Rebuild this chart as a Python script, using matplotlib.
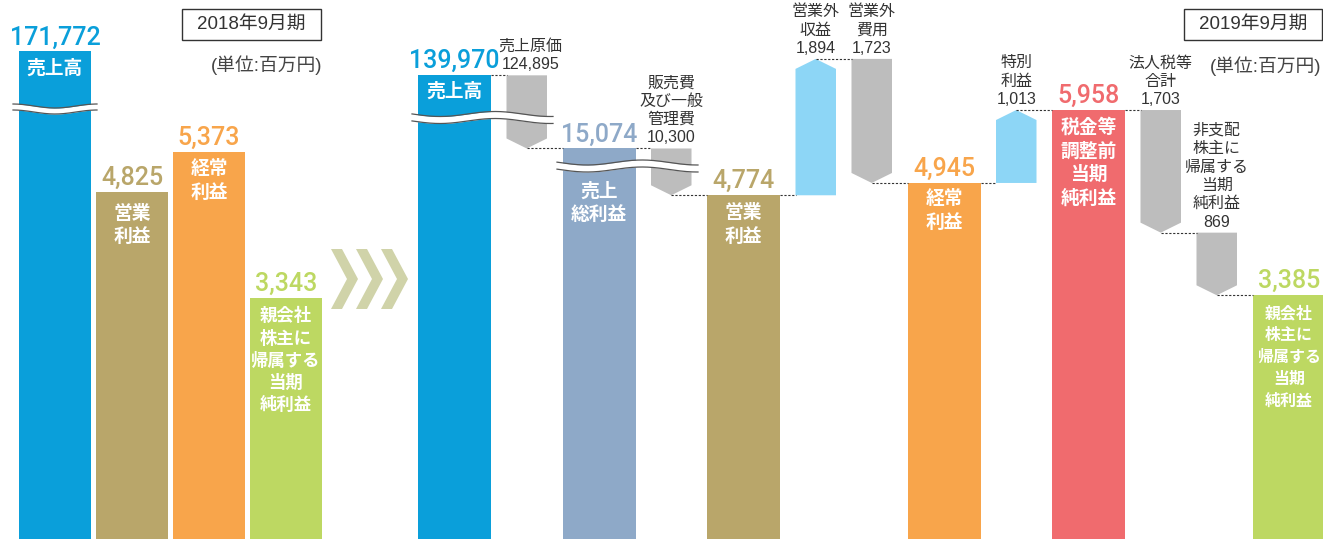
import numpy as np
import matplotlib.pyplot as plt
from matplotlib.patches import Polygon, Rectangle

plt.rcParams['font.family'] = ['Liberation Sans', 'Noto Sans CJK JP']

# ---- data (百万円) ----
# 2018年9月期
prev_labels = ["売上高", "営業\n利益", "経常\n利益", "親会社\n株主に\n帰属する\n当期\n純利益"]
prev_values = [171772, 4825, 5373, 3343]

# 2019年9月期 : totals
cur_labels = ["売上高", "売上\n総利益", "営業\n利益", "経常\n利益",
              "税金等\n調整前\n当期\n純利益", "親会社\n株主に\n帰属する\n当期\n純利益"]
cur_values = [139970, 15074, 4774, 4945, 5958, 3385]

# 2019年9月期 : steps between totals
step_labels = ["売上原価", "販売費\n及び一般\n管理費", "営業外\n収益", "営業外\n費用",
               "特別\n利益", "法人税等\n合計", "非支配\n株主に\n帰属する\n当期\n純利益"]
step_values = [124895, 10300, 1894, 1723, 1013, 1703, 869]
step_signs = [-1, -1, 1, -1, 1, -1, -1]

order = "TSTSTSSTSTSST"

# ---- styling / layout ----
W, H = 1323, 539
SCALE = 0.072            # px per 百万円
prev_colors = ["#0a9fda", "#b9a66a", "#f8a54b", "#bdd862"]
cur_colors = ["#0a9fda", "#8ea9c8", "#b9a66a", "#f8a54b", "#f06b6e", "#bdd862"]
prev_cuts = [165000, 0, 0, 0]          # amount hidden by the wavy break
cur_cuts = [133530, 9650, 0, 0, 0, 0]
prev_drop = [7, 12, 7, 9]              # px from bar top to inner label
cur_drop = [6, 33, 8, 6, 8, 10]
prev_fs = [13.5, 13.5, 13.5, 12.5]
cur_fs = [13.5, 13.5, 13.5, 13.5, 13.5, 11.5]
cur_ls = [1.3, 1.3, 1.3, 1.3, 1.3, 1.45]
GRAY = "#bdbdbd"
LBLUE = "#8dd6f6"
TXT = "#333333"
BAR_W, ARR_W, GAP = 73, 40.5, 15.5
HEAD = 10 / SCALE


def Y(px):
    return (H - px) / SCALE


def P(px):
    return px / SCALE


fig = plt.figure(figsize=(W / 100, H / 100), dpi=100)
ax = fig.add_axes([0, 0, 1, 1])
ax.set_xlim(0, W)
ax.set_ylim(0, H / SCALE)
ax.axis('off')

num_font = dict(family=['Roboto', 'Liberation Sans'], fontsize=18, fontweight='medium')
in_font = dict(family=['Noto Sans CJK JP'], fontweight='bold', color='white',
               ha='center', va='top')
lab_font = dict(family=['Liberation Sans', 'Noto Sans CJK JP'], fontsize=11.5, color=TXT,
                ha='center', va='bottom', linespacing=1.28)


def wave(x0, x1, yc, amp, half, period, xref, sign=1):
    xs = np.linspace(x0, x1, 200)
    c = yc + sign * amp * np.cos(2 * np.pi * (xs - xref) / period)
    top, bot = Y(c - half), Y(c + half)
    ax.fill_between(xs, bot, top, color='white', zorder=5, lw=0)
    ax.plot(xs, top, color='#555555', lw=0.9, zorder=6)
    ax.plot(xs, bot, color='#555555', lw=0.9, zorder=6)


def total_bar(x, w, val, cut, color, label, drop, fs, ls=1.3):
    h = val - cut
    ax.bar(x, h, width=w, align='edge', color=color, zorder=2)
    ax.text(x + w / 2, h + P(7), f"{val:,}", color=color, ha='center', va='baseline', **num_font)
    ax.text(x + w / 2, h - P(drop), label, fontsize=fs, linespacing=ls, zorder=7, **in_font)
    return h


# ---- 2018 panel ----
for i, (lab, v) in enumerate(zip(prev_labels, prev_values)):
    total_bar(19 + i * 77, 72, v, prev_cuts[i], prev_colors[i], lab, prev_drop[i], prev_fs[i])
wave(13, 97, 109, 2, 3, 84, 13, sign=-1)

ax.add_patch(Rectangle((182, Y(40)), 139, P(31), fill=False, ec=TXT, lw=1))
ax.text(251.5, Y(24.5), "2018年9月期", ha='center', va='center', fontsize=13.5, color=TXT)
ax.text(322, Y(65), "(単位:百万円)", ha='right', va='center', fontsize=13.5, color='#444444')

# chevrons
for i in range(3):
    x0 = 331 + i * 25
    pts = [(x0, Y(249)), (x0 + 11, Y(249)), (x0 + 27, Y(279)), (x0 + 11, Y(309)),
           (x0, Y(309)), (x0 + 16, Y(279))]
    ax.add_patch(Polygon(pts, closed=True, color='#d0d3a9', lw=0))

# ---- 2019 panel ----
x = 418
ti = si = 0
lvl = None
exit_x = None
for k, kind in enumerate(order):
    if kind == 'T':
        h = cur_values[ti] - cur_cuts[ti]
        if exit_x is not None:
            ax.plot([exit_x, x], [h, h], color=TXT, lw=0.8, ls=(0, (2, 1.5)), zorder=3)
        total_bar(x, BAR_W, cur_values[ti], cur_cuts[ti], cur_colors[ti], cur_labels[ti],
                  cur_drop[ti], cur_fs[ti], cur_ls[ti])
        lvl = h
        exit_x = x + BAR_W
        x += BAR_W + GAP
        ti += 1
    else:
        s = step_signs[si]
        v = step_values[si]
        end = (cur_values[ti] - cur_cuts[ti]) if order[k + 1] == 'T' else lvl + s * v
        ax.plot([exit_x, x], [lvl, lvl], color=TXT, lw=0.8, ls=(0, (2, 1.5)), zorder=3)
        cx = x + ARR_W / 2
        if s < 0:
            pts = [(x, lvl), (x + ARR_W, lvl), (x + ARR_W, end + HEAD), (cx, end), (x, end + HEAD)]
            color, top = GRAY, lvl
        else:
            pts = [(x, lvl), (x + ARR_W, lvl), (x + ARR_W, end - HEAD), (cx, end), (x, end - HEAD)]
            color, top = LBLUE, end
        ax.add_patch(Polygon(pts, closed=True, color=color, lw=0, zorder=2))
        ax.text(cx + (4 if si == 0 else 0), top + P(3), f"{step_labels[si]}\n{v:,}", **lab_font)
        lvl = end
        exit_x = cx
        x += ARR_W + GAP
        si += 1

wave(412, 553, 117.5, 2.5, 3.5, 110, 440)
wave(557, 698, 166, 2.5, 3.5, 110, 587)

ax.add_patch(Rectangle((1184, Y(40)), 138, P(31), fill=False, ec=TXT, lw=1))
ax.text(1253, Y(24.5), "2019年9月期", ha='center', va='center', fontsize=13.5, color=TXT)
ax.text(1321, Y(66), "(単位:百万円)", ha='right', va='center', fontsize=13.5, color='#444444')

fig.savefig("out.png", dpi=100)
